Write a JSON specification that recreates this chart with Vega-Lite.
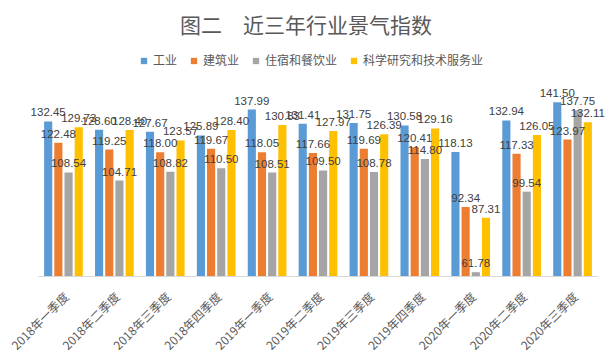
{
  "$schema": "https://vega.github.io/schema/vega-lite/v6.json",
  "width": 560,
  "height": 192,
  "autosize": {"type": "none"},
  "padding": {"left": 38, "top": 84, "right": 15, "bottom": 79},
  "background": "white",
  "title": {
    "text": "图二　近三年行业景气指数",
    "font": "Noto Sans CJK SC",
    "fontSize": 21,
    "fontWeight": "normal",
    "color": "#595959",
    "anchor": "middle",
    "dx": -12,
    "offset": 18
  },
  "data": {
    "values": [
      {"q": "2018年一季度", "ind": "工业", "v": 132.45},
      {"q": "2018年一季度", "ind": "建筑业", "v": 122.48},
      {"q": "2018年一季度", "ind": "住宿和餐饮业", "v": 108.54},
      {"q": "2018年一季度", "ind": "科学研究和技术服务业", "v": 129.73},
      {"q": "2018年二季度", "ind": "工业", "v": 128.60},
      {"q": "2018年二季度", "ind": "建筑业", "v": 119.25},
      {"q": "2018年二季度", "ind": "住宿和餐饮业", "v": 104.71},
      {"q": "2018年二季度", "ind": "科学研究和技术服务业", "v": 128.40},
      {"q": "2018年三季度", "ind": "工业", "v": 127.67},
      {"q": "2018年三季度", "ind": "建筑业", "v": 118.00},
      {"q": "2018年三季度", "ind": "住宿和餐饮业", "v": 108.82},
      {"q": "2018年三季度", "ind": "科学研究和技术服务业", "v": 123.57},
      {"q": "2018年四季度", "ind": "工业", "v": 125.89},
      {"q": "2018年四季度", "ind": "建筑业", "v": 119.67},
      {"q": "2018年四季度", "ind": "住宿和餐饮业", "v": 110.50},
      {"q": "2018年四季度", "ind": "科学研究和技术服务业", "v": 128.40},
      {"q": "2019年一季度", "ind": "工业", "v": 137.99},
      {"q": "2019年一季度", "ind": "建筑业", "v": 118.05},
      {"q": "2019年一季度", "ind": "住宿和餐饮业", "v": 108.51},
      {"q": "2019年一季度", "ind": "科学研究和技术服务业", "v": 130.83},
      {"q": "2019年二季度", "ind": "工业", "v": 131.41},
      {"q": "2019年二季度", "ind": "建筑业", "v": 117.66},
      {"q": "2019年二季度", "ind": "住宿和餐饮业", "v": 109.50},
      {"q": "2019年二季度", "ind": "科学研究和技术服务业", "v": 127.97},
      {"q": "2019年三季度", "ind": "工业", "v": 131.75},
      {"q": "2019年三季度", "ind": "建筑业", "v": 119.69},
      {"q": "2019年三季度", "ind": "住宿和餐饮业", "v": 108.78},
      {"q": "2019年三季度", "ind": "科学研究和技术服务业", "v": 126.39},
      {"q": "2019年四季度", "ind": "工业", "v": 130.58},
      {"q": "2019年四季度", "ind": "建筑业", "v": 120.41},
      {"q": "2019年四季度", "ind": "住宿和餐饮业", "v": 114.80},
      {"q": "2019年四季度", "ind": "科学研究和技术服务业", "v": 129.16},
      {"q": "2020年一季度", "ind": "工业", "v": 118.13},
      {"q": "2020年一季度", "ind": "建筑业", "v": 92.34},
      {"q": "2020年一季度", "ind": "住宿和餐饮业", "v": 61.78},
      {"q": "2020年一季度", "ind": "科学研究和技术服务业", "v": 87.31},
      {"q": "2020年二季度", "ind": "工业", "v": 132.94},
      {"q": "2020年二季度", "ind": "建筑业", "v": 117.33},
      {"q": "2020年二季度", "ind": "住宿和餐饮业", "v": 99.54},
      {"q": "2020年二季度", "ind": "科学研究和技术服务业", "v": 126.05},
      {"q": "2020年三季度", "ind": "工业", "v": 141.50},
      {"q": "2020年三季度", "ind": "建筑业", "v": 123.97},
      {"q": "2020年三季度", "ind": "住宿和餐饮业", "v": 137.75},
      {"q": "2020年三季度", "ind": "科学研究和技术服务业", "v": 132.11}
    ]
  },
  "encoding": {
    "x": {
      "field": "q",
      "type": "nominal",
      "sort": null,
      "scale": {"paddingInner": 0.24, "paddingOuter": 0.12},
      "axis": {
        "title": null,
        "labelAngle": -45,
        "labelFont": "Noto Sans CJK SC",
        "labelFontSize": 12,
        "labelColor": "#595959",
        "ticks": false,
        "labelPadding": 15,
        "domainColor": "#D9D9D9",
        "domainWidth": 1
      }
    },
    "xOffset": {
      "field": "ind",
      "type": "nominal",
      "sort": ["工业", "建筑业", "住宿和餐饮业", "科学研究和技术服务业"],
      "scale": {"paddingInner": 0.2, "paddingOuter": 0}
    },
    "y": {
      "field": "v",
      "type": "quantitative",
      "scale": {"domain": [60, 150], "zero": false, "nice": false, "clamp": true},
      "axis": null
    }
  },
  "layer": [
    {
      "mark": {"type": "bar"},
      "encoding": {
        "color": {
          "field": "ind",
          "type": "nominal",
          "scale": {
            "domain": ["工业", "建筑业", "住宿和餐饮业", "科学研究和技术服务业"],
            "range": ["#5B9BD5", "#ED7D31", "#A5A5A5", "#FFC000"]
          },
          "legend": {
            "title": null,
            "orient": "none",
            "direction": "horizontal",
            "legendX": 100,
            "legendY": -29,
            "symbolType": "square",
            "symbolSize": 40,
            "symbolStrokeWidth": 0,
            "labelFont": "Noto Sans CJK SC",
            "labelFontSize": 12,
            "labelColor": "#595959",
            "labelOffset": 3,
            "columnPadding": 10
          }
        }
      }
    },
    {
      "mark": {
        "type": "text",
        "baseline": "bottom",
        "dy": -3,
        "font": "Liberation Sans",
        "fontSize": 11.5,
        "color": "#404040"
      },
      "encoding": {
        "text": {"field": "v", "type": "quantitative", "format": ".2f"}
      }
    }
  ],
  "config": {
    "view": {"stroke": null}
  }
}
